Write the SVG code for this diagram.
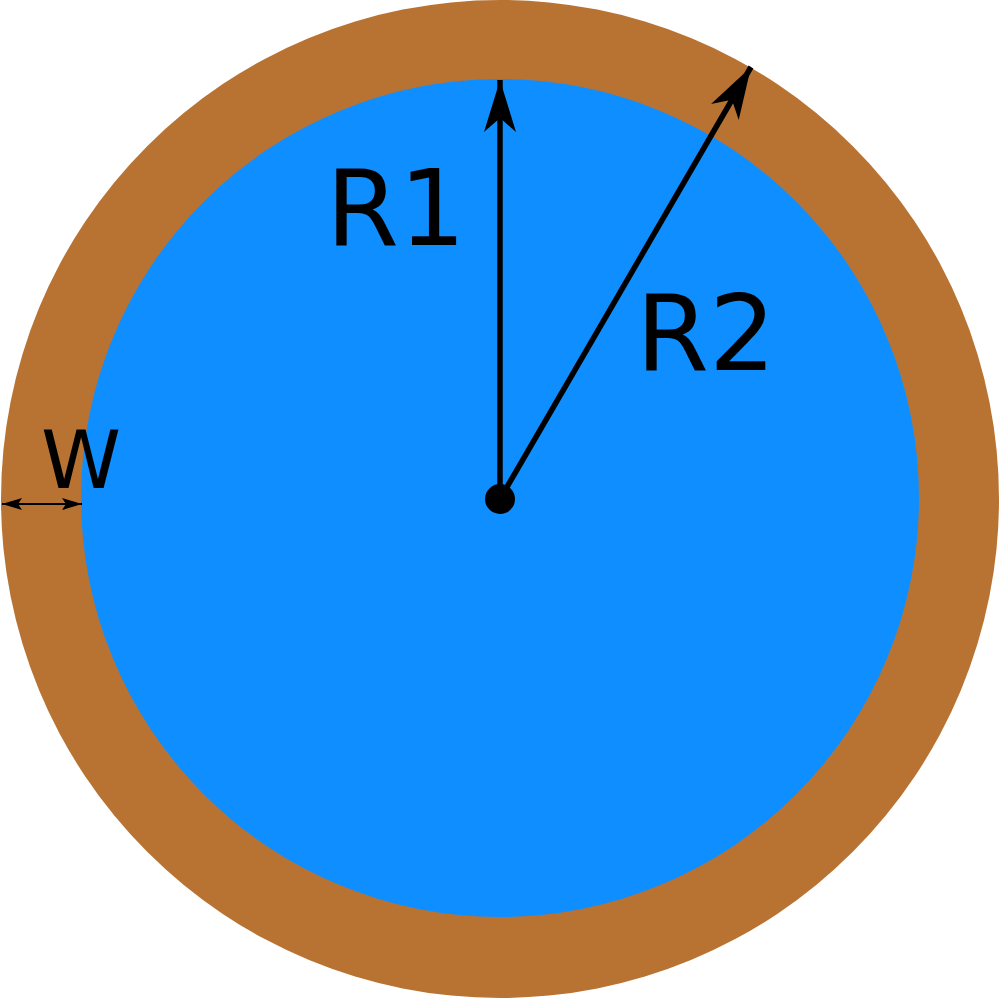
<svg xmlns="http://www.w3.org/2000/svg" width="1000" height="998" viewBox="0 0 1000 998">
<style>
.lbl{font-family:"DejaVu Sans",sans-serif;fill:#000}
.ln{stroke:#000;fill:none}
</style>
<defs>
<marker id="big" markerUnits="userSpaceOnUse" markerWidth="54" markerHeight="36" refX="52" refY="18" orient="auto">
<path d="M52,18 L0,2 L14,18 L0,34 Z" fill="#000"/>
</marker>
<marker id="sm" markerUnits="userSpaceOnUse" markerWidth="22" markerHeight="14" refX="20" refY="7" orient="auto-start-reverse">
<path d="M20,7 L0,1 L4,7 L0,13 Z" fill="#000"/>
</marker>
</defs>
<g id="outer"><circle cx="500" cy="499" r="499" fill="#b87333"/></g>
<g id="inner"><circle cx="500" cy="498" r="419" fill="#0f8fff"/></g>
<g id="connectors">
<line class="ln" x1="500" y1="499" x2="500" y2="80" stroke-width="5.5" marker-end="url(#big)"/>
<line class="ln" x1="500" y1="499" x2="751" y2="67" stroke-width="5.5" marker-end="url(#big)"/>
<line class="ln" x1="2" y1="504" x2="82" y2="504" stroke-width="1.8" marker-start="url(#sm)" marker-end="url(#sm)"/>
</g>
<g id="center"><circle cx="500" cy="499" r="15" fill="#000"/></g>
<g id="labels">
<text class="lbl" x="326" y="245" font-size="105">R1</text>
<text class="lbl" x="636" y="370" font-size="105">R2</text>
<text class="lbl" x="41" y="488" font-size="81">W</text>
</g>
</svg>
